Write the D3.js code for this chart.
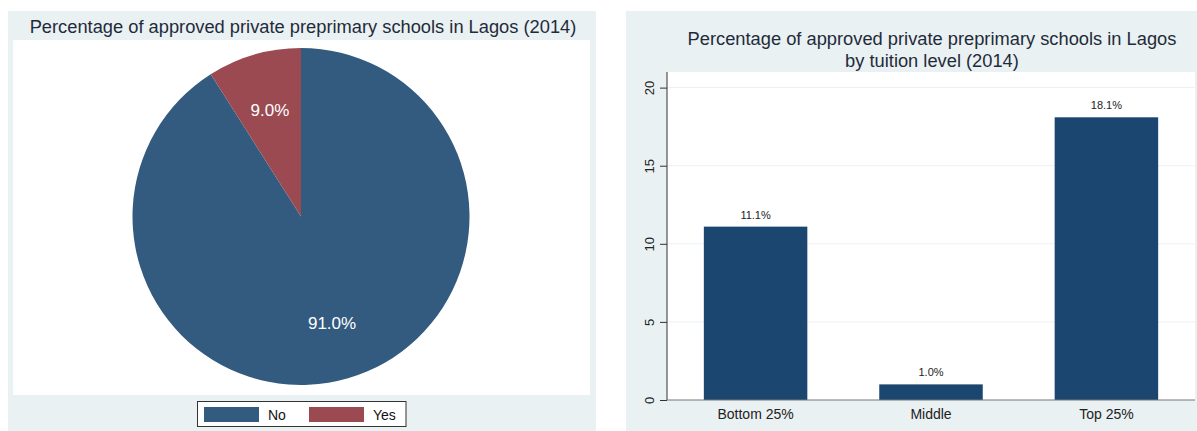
<!DOCTYPE html>
<html><head><meta charset="utf-8">
<script src="https://cdn.jsdelivr.net/npm/d3@7"></script>
<style>body{margin:0;background:#fff}svg{display:block;font-family:"Liberation Sans",Arial,sans-serif}</style>
</head><body>
<svg id="c" width="1197" height="431"></svg>
<script>
const pieCategories = ["No", "Yes"];
const pieValues = [91.0, 9.0];
const pieColors = ["#335a7f", "#9b4a51"];
const barCategories = ["Bottom 25%", "Middle", "Top 25%"];
const barValues = [11.1, 1.0, 18.1];
const yTicks = [0, 5, 10, 15, 20];
const leftTitle = "Percentage of approved private preprimary schools in Lagos (2014)";
const rightTitle = ["Percentage of approved private preprimary schools in Lagos", "by tuition level (2014)"];

const svg = d3.select("#c");
const BG = "#eaf1f3", TXT = "#1f2b3a";

// ---------- Left panel (pie) ----------
svg.append("rect").attr("x", 8).attr("y", 11).attr("width", 588).attr("height", 420).attr("fill", BG);
svg.append("rect").attr("x", 13).attr("y", 40).attr("width", 577).attr("height", 355).attr("fill", "#fff");
svg.append("text").attr("x", 303).attr("y", 33).attr("text-anchor", "middle")
  .attr("font-size", 18.3).attr("fill", TXT).text(leftTitle);

const cx = 301, cy = 216.5, R = 168.5;
const pie = d3.pie().sort(null).startAngle(0).endAngle(2 * Math.PI);
const arcs = pie(pieValues);
const arc = d3.arc().innerRadius(0).outerRadius(R);
const labelArc = d3.arc().innerRadius(R * 0.66).outerRadius(R * 0.66);
const g = svg.append("g").attr("transform", `translate(${cx},${cy})`);
g.selectAll("path").data(arcs).join("path").attr("d", arc).attr("fill", (d, i) => pieColors[i]);
g.selectAll("text").data(arcs).join("text")
  .attr("transform", d => `translate(${labelArc.centroid(d)})`)
  .attr("text-anchor", "middle").attr("dy", "0.35em").attr("font-size", 17).attr("fill", "#fff")
  .text(d => d.data.toFixed(1) + "%");

// legend
const lg = svg.append("g");
lg.append("rect").attr("x", 197.5).attr("y", 401.5).attr("width", 208.5).attr("height", 25)
  .attr("fill", "#fff").attr("stroke", "#333").attr("stroke-width", 1);
const legX = [204, 309];
pieCategories.forEach((c, i) => {
  lg.append("rect").attr("x", legX[i]).attr("y", 407).attr("width", 55).attr("height", 15).attr("fill", pieColors[i]);
  lg.append("text").attr("x", legX[i] + 64).attr("y", 419.5).attr("font-size", 14).attr("fill", "#111").text(c);
});

// ---------- Right panel (bars) ----------
svg.append("rect").attr("x", 626).attr("y", 11).attr("width", 571).attr("height", 420).attr("fill", BG);
const px0 = 667, px1 = 1195, py0 = 72, py1 = 400;
svg.append("rect").attr("x", px0).attr("y", py0).attr("width", px1 - px0).attr("height", py1 - py0).attr("fill", "#fff");
svg.append("text").attr("x", 932).attr("y", 45).attr("text-anchor", "middle").attr("font-size", 18.3).attr("fill", TXT).text(rightTitle[0]);
svg.append("text").attr("x", 932).attr("y", 67).attr("text-anchor", "middle").attr("font-size", 18.3).attr("fill", TXT).text(rightTitle[1]);

const y = d3.scaleLinear().domain([0, 21]).range([py1, py0]);
const x = d3.scaleBand().domain(barCategories).range([px0, px1]).paddingInner(0.41).paddingOuter(0.21);

// gridlines
svg.append("g").selectAll("line").data(yTicks.filter(t => t > 0)).join("line")
  .attr("x1", px0).attr("x2", px1).attr("y1", d => y(d)).attr("y2", d => y(d))
  .attr("stroke", "#eaf1f3").attr("stroke-width", 1);

svg.append("g").selectAll("rect").data(barValues).join("rect")
  .attr("x", (d, i) => x(barCategories[i])).attr("width", x.bandwidth())
  .attr("y", d => y(d)).attr("height", d => y(0) - y(d)).attr("fill", "#1b4670");

svg.append("g").selectAll("text").data(barValues).join("text")
  .attr("x", (d, i) => x(barCategories[i]) + x.bandwidth() / 2).attr("y", d => y(d) - 8)
  .attr("text-anchor", "middle").attr("font-size", 11).attr("fill", "#222").text(d => d.toFixed(1) + "%");

// y axis
const yAxis = svg.append("g").attr("transform", `translate(${px0},0)`)
  .call(d3.axisLeft(y).tickValues(yTicks).tickSize(7).tickSizeOuter(0));
yAxis.select(".domain").attr("stroke", "#333").attr("d", `M0,${py0}V${py1}`);
yAxis.selectAll(".tick line").attr("stroke", "#333");
yAxis.selectAll(".tick text").attr("font-size", 13).attr("fill", "#222")
  .attr("font-family", "Liberation Sans, Arial, sans-serif")
  .attr("transform", "translate(-18,0) rotate(-90)")
  .attr("x", 0).attr("y", 0).attr("dy", "0.35em").attr("text-anchor", "middle");

// x axis
const xAxis = svg.append("g").attr("transform", `translate(0,${py1})`)
  .call(d3.axisBottom(x).tickSize(0).tickPadding(9));
xAxis.select(".domain").attr("stroke", "#777").attr("d", `M${px0},0H${px1}`);
xAxis.selectAll(".tick text").attr("font-size", 14).attr("fill", "#222")
  .attr("font-family", "Liberation Sans, Arial, sans-serif");
</script>
</body></html>
